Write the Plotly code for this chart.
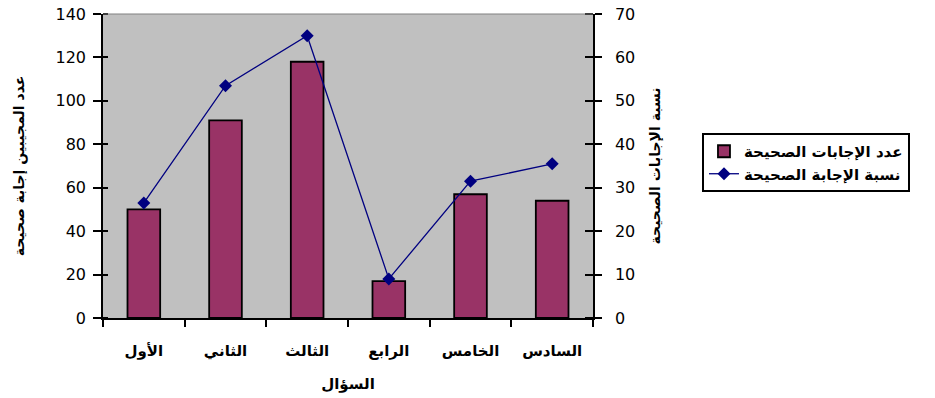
import plotly.graph_objects as go

categories = ["الأول", "الثاني", "الثالث", "الرابع", "الخامس", "السادس"]
correct_counts = [50, 91, 118, 17, 57, 54]
correct_pct = [26.5, 53.5, 65, 9, 31.5, 35.5]

bar_name = "عدد الإجابات الصحيحة"
line_name = "نسبة الإجابة الصحيحة"
y_title = "عدد المجيبين إجابة صحيحة"
y2_title = "نسبة الإجابات الصحيحة"
x_title = "السؤال"

FONT = "DejaVu Sans, Liberation Sans, sans-serif"

fig = go.Figure()
fig.add_trace(go.Bar(
    x=categories, y=correct_counts, name=bar_name,
    marker=dict(color="#993366", line=dict(color="black", width=1.8)),
    yaxis="y",
))
fig.add_trace(go.Scatter(
    x=categories, y=correct_pct, name=line_name, mode="lines+markers",
    line=dict(color="#000080", width=1.3),
    marker=dict(symbol="diamond", size=10, color="#000080"),
    yaxis="y2",
))

fig.update_layout(
    width=935, height=398,
    margin=dict(l=103, r=342, t=14, b=80),
    paper_bgcolor="white",
    plot_bgcolor="#C0C0C0",
    font=dict(family=FONT, size=14, color="black"),
    bargap=0.6,
    showlegend=True,
    legend=dict(
        x=1.2224, y=0.6086, xanchor="left", yanchor="top",
        bordercolor="black", borderwidth=2, bgcolor="white",
        font=dict(size=15, weight="bold"),
    ),
    xaxis=dict(
        type="category", tickson="boundaries", ticks="outside", ticklen=7,
        tickcolor="black", tickwidth=1.5, showline=True, linecolor="black",
        linewidth=1.5, showgrid=False, automargin=False,
        tickfont=dict(size=15, weight="bold"), ticklabelstandoff=18,
        title=dict(text=x_title, standoff=20, font=dict(size=15, weight="bold")),
    ),
    yaxis=dict(
        range=[0, 140], dtick=20, ticks="outside", ticklen=8, tickcolor="black",
        tickwidth=1.5, showline=True, linecolor="black", linewidth=1.5,
        showgrid=False, zeroline=False, automargin=False,
        tickfont=dict(size=16), ticklabelstandoff=4,
        minor=dict(dtick=20, ticks="inside", ticklen=5, tickcolor="black",
                   tickwidth=1.5, showgrid=False),
        title=dict(text=y_title, standoff=28, font=dict(size=14, weight="bold")),
    ),
    yaxis2=dict(
        range=[0, 70], dtick=10, overlaying="y", side="right", ticks="outside",
        ticklen=7, tickcolor="black", tickwidth=1.5, showline=True,
        linecolor="black", linewidth=1.5, showgrid=False, zeroline=False,
        automargin=False, tickfont=dict(size=16), ticklabelstandoff=10,
        minor=dict(dtick=10, ticks="inside", ticklen=8, tickcolor="black",
                   tickwidth=1.5, showgrid=False),
        title=dict(text=y2_title, standoff=16, font=dict(size=14, weight="bold")),
    ),
    shapes=[dict(type="line", xref="paper", yref="paper", x0=0, x1=1, y0=1, y1=1,
                 line=dict(color="#808080", width=1))],
)

fig.write_html("out.html")
